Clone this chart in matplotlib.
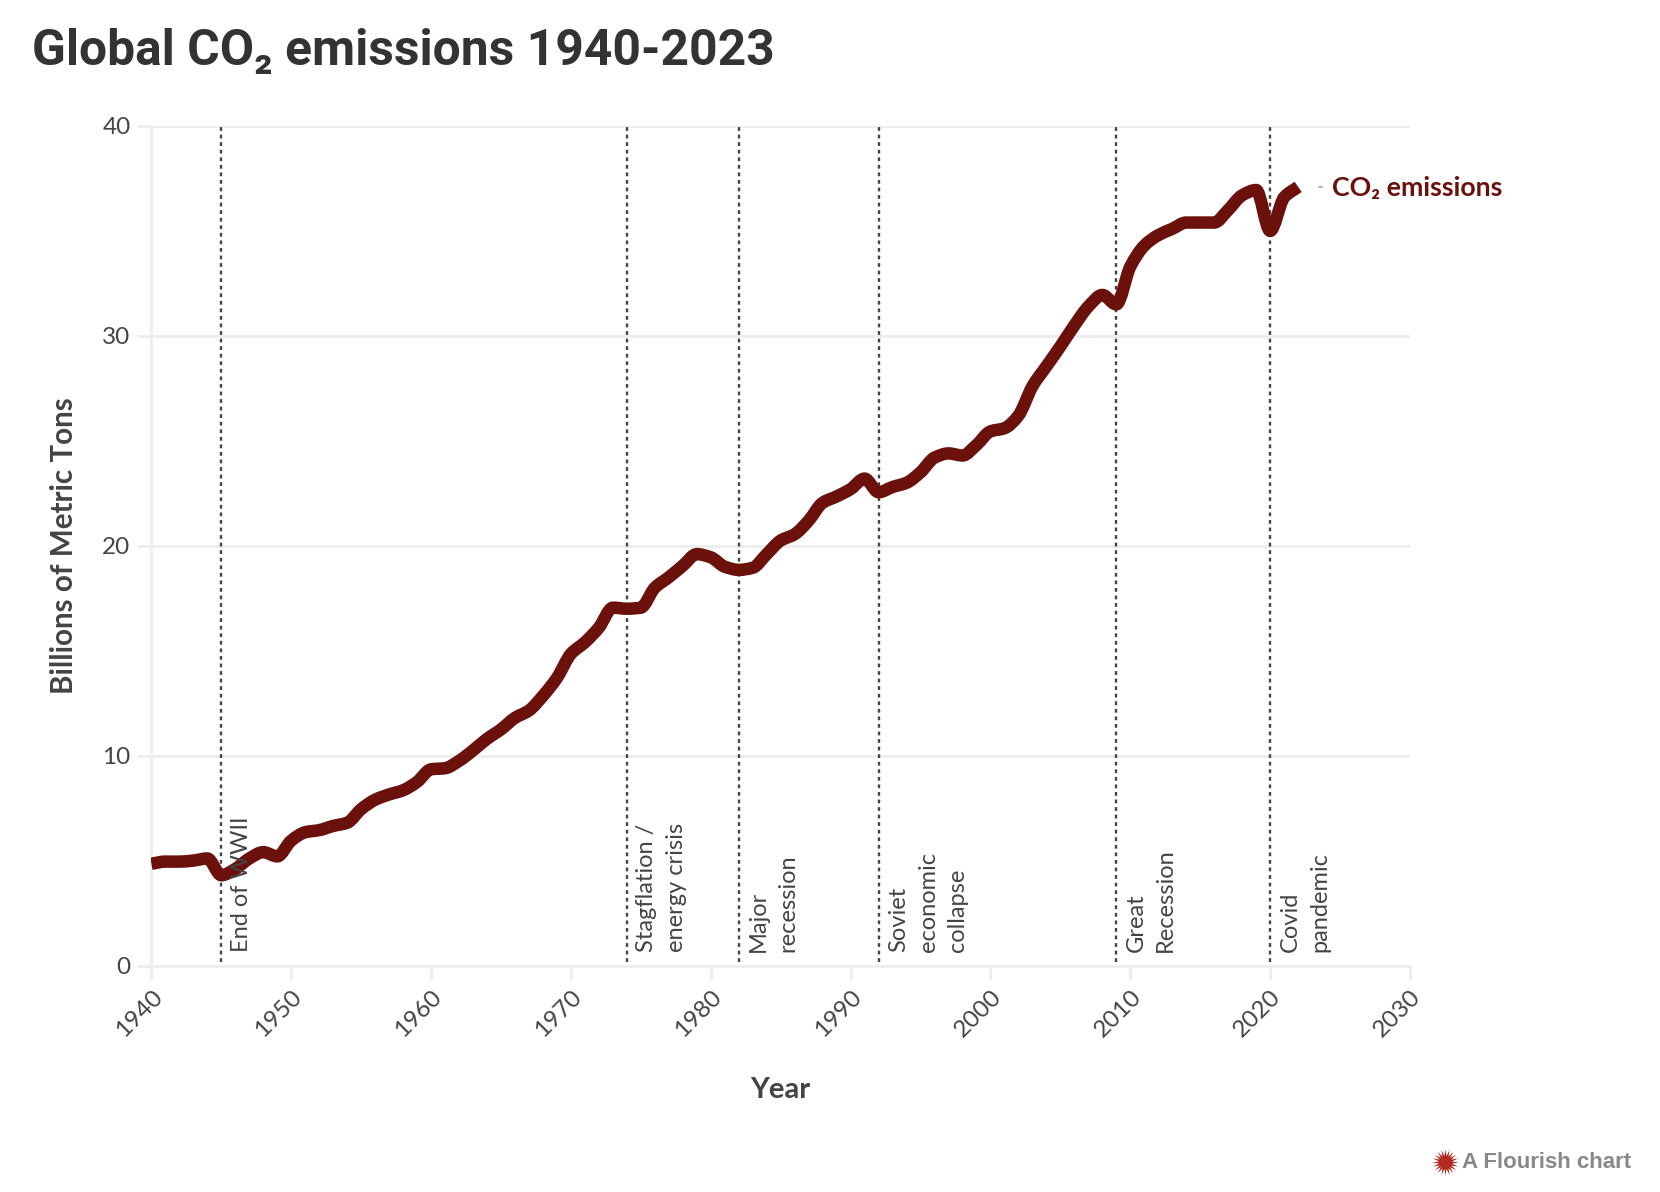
import matplotlib
matplotlib.use('Agg')
import matplotlib.pyplot as plt
from matplotlib.lines import Line2D
from matplotlib.path import Path
from matplotlib.patches import PathPatch
import numpy as np

years = list(range(1940, 2023))
emissions = [4.85, 4.95, 4.95, 5.0, 5.1, 4.3, 4.6, 5.1, 5.4, 5.2,
             5.95, 6.35, 6.45, 6.65, 6.8, 7.45, 7.9, 8.15, 8.35, 8.75,
             9.35, 9.4, 9.75, 10.25, 10.8, 11.25, 11.8, 12.15, 12.85, 13.7,
             14.85, 15.4, 16.1, 17.05, 17.0, 17.05, 18.0, 18.5, 19.05, 19.6,
             19.45, 19.0, 18.85, 18.95, 19.6, 20.25, 20.55, 21.2, 22.05, 22.35,
             22.7, 23.2, 22.55, 22.8, 23.0, 23.5, 24.2, 24.4, 24.3, 24.8,
             25.45, 25.6, 26.2, 27.6, 28.55, 29.5, 30.5, 31.4, 31.95, 31.5,
             33.3, 34.3, 34.8, 35.1, 35.4, 35.4, 35.4, 36.0, 36.7, 36.95,
             35.0, 36.6, 37.1]

event_years = [1945, 1974, 1982, 1992, 2009, 2020]
event_labels = ['End of WWII', 'Stagflation /\nenergy crisis', 'Major\nrecession',
                'Soviet\neconomic\ncollapse', 'Great\nRecession', 'Covid\npandemic']

x_ticks = list(range(1940, 2031, 10))
y_ticks = [0, 10, 20, 30, 40]

DARK = '#444444'
GRID = '#eeeeee'
LINE = '#6b100b'
BODY = ['Lato', 'Noto Sans', 'DejaVu Sans']


def curve_path(xs, ys):
    # monotone bezier through the yearly points, same look as the d3 curve
    xs = np.array(xs, dtype=float)
    ys = np.array(ys, dtype=float)
    s = np.diff(ys) / np.diff(xs)
    m = np.zeros(len(ys))
    m[0] = s[0]
    m[-1] = s[-1]
    for i in range(1, len(ys) - 1):
        if s[i - 1] * s[i] > 0:
            m[i] = 2 * s[i - 1] * s[i] / (s[i - 1] + s[i])
    verts = [(xs[0], ys[0])]
    codes = [Path.MOVETO]
    for i in range(len(xs) - 1):
        h = (xs[i + 1] - xs[i]) / 3
        verts += [(xs[i] + h, ys[i] + m[i] * h), (xs[i + 1] - h, ys[i + 1] - m[i + 1] * h), (xs[i + 1], ys[i + 1])]
        codes += [Path.CURVE4] * 3
    return Path(verts, codes)


fig = plt.figure(figsize=(16.6, 11.92), dpi=100)
ax = fig.add_axes([151.4 / 1660, 1 - 965.5 / 1192, (1410 - 151.4) / 1660, (965.5 - 126) / 1192])
ax.set_xlim(1940, 2030)
ax.set_ylim(0, 40)

ax.set_yticks(y_ticks)
ax.set_xticks(x_ticks)
ax.grid(axis='y', color=GRID, linewidth=2.2)
ax.set_axisbelow(True)
for side in ['top', 'right']:
    ax.spines[side].set_visible(False)
for side in ['left', 'bottom']:
    ax.spines[side].set_color(GRID)
    ax.spines[side].set_linewidth(2.2)
ax.tick_params(axis='both', color=GRID, width=2.2, length=10, labelcolor=DARK, labelsize=17.5, pad=5)
for lab in ax.get_yticklabels():
    lab.set_family(BODY)
for lab in ax.get_xticklabels():
    lab.set_family(BODY)
    lab.set_rotation(45)
    lab.set_ha('right')
    lab.set_rotation_mode('anchor')

for yr in event_years:
    ax.plot([yr, yr], [0.15, 40], color='#444444', lw=1.7, dashes=(1.6, 1.6), zorder=2)

ax.add_patch(PathPatch(curve_path(years, emissions), fc='none', ec=LINE, lw=9, capstyle='butt',
                       joinstyle='round', zorder=3))

for yr, label in zip(event_years, event_labels):
    ax.text(yr + 0.68, 0.65, label, rotation=90, ha='left', va='bottom', fontsize=17, color=DARK,
            family=BODY, linespacing=1.5, multialignment='left', zorder=4)

ax.set_xlabel('Year', fontsize=21, fontweight='bold', color=DARK, family=BODY)
ax.xaxis.set_label_coords(0.5, -0.133)
ax.set_ylabel('Billions of Metric Tons', fontsize=21.3, fontweight='bold', color=DARK, family=BODY)
ax.yaxis.set_label_coords(-0.058, 0.5)

# direct label at the end of the line
ax.annotate('', xy=(2023.3, emissions[-1]), xytext=(2023.9, emissions[-1]),
            arrowprops=dict(arrowstyle='-', color='#aaaaaa', lw=1.4))
ax.text(2024.4, emissions[-1] - 0.05, 'CO₂ emissions', fontsize=19.3, fontweight='bold', color=LINE,
        family=BODY, va='center', ha='left', clip_on=False)

fig.text(32 / 1660, 1 - 51 / 1192, 'Global CO₂ emissions 1940-2023', fontsize=35.8, fontweight='bold',
         color='#333333', family=['Roboto', 'DejaVu Sans'], va='center', ha='left')

# flourish credit
fig.add_artist(Line2D([1445 / 1660], [1 - 1162 / 1192], marker=(20, 1, 0), markersize=19, color='#b12a22',
                      mew=0, transform=fig.transFigure))
fig.add_artist(Line2D([1445 / 1660], [1 - 1162 / 1192], marker='o', markersize=9, color='#b12a22',
                      mew=0, transform=fig.transFigure))
fig.text(1631 / 1660, 1 - 1162 / 1192, 'A Flourish chart', fontsize=16, fontweight='bold', color='#888888',
         family=['Liberation Sans', 'DejaVu Sans'], va='center', ha='right')

fig.savefig('out.png', dpi=100)
